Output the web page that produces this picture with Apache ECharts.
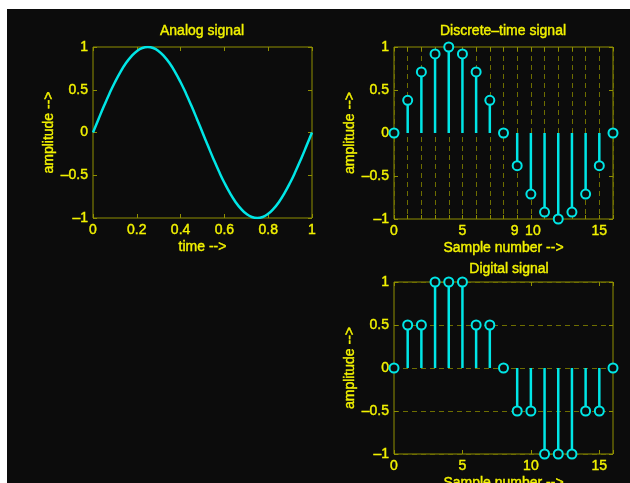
<!DOCTYPE html>
<html>
<head>
<meta charset="utf-8">
<script src="https://cdn.jsdelivr.net/npm/echarts@6/dist/echarts.min.js"></script>
<style>
  html, body { margin: 0; padding: 0; background: #ffffff; }
  #chart { position: absolute; left: 7px; top: 9px; width: 623px; height: 474px; background: #0c0c0c; }
</style>
</head>
<body>
<div id="chart"></div>
<script>
// analog signal, read at t = 0, 0.025, ... 1
const analogTime = [0, 0.025, 0.05, 0.075, 0.1, 0.125, 0.15, 0.175, 0.2, 0.225, 0.25,
  0.275, 0.3, 0.325, 0.35, 0.375, 0.4, 0.425, 0.45, 0.475, 0.5,
  0.525, 0.55, 0.575, 0.6, 0.625, 0.65, 0.675, 0.7, 0.725, 0.75,
  0.775, 0.8, 0.825, 0.85, 0.875, 0.9, 0.925, 0.95, 0.975, 1];
const analogAmp = [0, 0.156, 0.309, 0.454, 0.588, 0.707, 0.809, 0.891, 0.951, 0.988, 1,
  0.988, 0.951, 0.891, 0.809, 0.707, 0.588, 0.454, 0.309, 0.156, 0,
  -0.156, -0.309, -0.454, -0.588, -0.707, -0.809, -0.891, -0.951, -0.988, -1,
  -0.988, -0.951, -0.891, -0.809, -0.707, -0.588, -0.454, -0.309, -0.156, 0];

const sampleNumber = [0, 1, 2, 3, 4, 5, 6, 7, 8, 9, 10, 11, 12, 13, 14, 15, 16];
const discreteAmp = [0, 0.38, 0.71, 0.92, 1, 0.92, 0.71, 0.38, 0, -0.38, -0.71, -0.92, -1, -0.92, -0.71, -0.38, 0];
const digitalAmp = [0, 0.5, 0.5, 1, 1, 1, 0.5, 0.5, 0, -0.5, -0.5, -1, -1, -1, -0.5, -0.5, 0];

const discreteTickLabels = [0, 5, 9, 10, 15];
const digitalTickLabels = [0, 5, 10, 15];

const TEXT = '#f2f200';
const FRAME = '#8f8f00';
const GRIDLINE = '#6e6e00';
const CYAN = '#00e6e6';
const BG = '#0c0c0c';
const FONT = 'Liberation Sans';

const fmtNum = v => (v < 0 ? '\u2013' + String(-v) : String(v));

const chart = echarts.init(document.getElementById('chart'));

const grids = [
  { left: 86, top: 38, width: 219, height: 171 },
  { left: 387, top: 38, width: 219, height: 172 },
  { left: 387, top: 273, width: 219, height: 172 }
];

// slight outline in the text colour to get the heavier look of the original
const txt = { color: TEXT, fontFamily: FONT, fontSize: 14, textBorderColor: TEXT, textBorderWidth: 0.4 };
const tick = { show: true, inside: true, length: 4, lineStyle: { color: FRAME } };
const label = Object.assign({}, txt, { margin: 5 });
const noLine = { show: false, onZero: false };

function xAxisPair(grid, min, max, interval, name, showLabel, split, rich) {
  return [
    {
      type: 'value', gridIndex: grid, min: min, max: max, interval: interval,
      name: name, nameLocation: 'middle', nameGap: 22, nameTextStyle: txt,
      axisLine: noLine, axisTick: tick,
      axisLabel: Object.assign({}, label, { formatter: showLabel, rich: rich || {} }),
      splitLine: split
    },
    {
      type: 'value', gridIndex: grid, position: 'top', min: min, max: max, interval: interval,
      axisLine: noLine, axisTick: tick, axisLabel: { show: false }, splitLine: { show: false }
    }
  ];
}

function yAxisPair(grid, split) {
  return [
    {
      type: 'value', gridIndex: grid, min: -1, max: 1, interval: 0.5,
      name: 'amplitude -->', nameLocation: 'middle', nameGap: 31, nameTextStyle: txt,
      axisLine: noLine, axisTick: tick,
      axisLabel: Object.assign({}, label, { formatter: fmtNum }),
      splitLine: split
    },
    {
      type: 'value', gridIndex: grid, position: 'right', min: -1, max: 1, interval: 0.5,
      axisLine: noLine, axisTick: tick, axisLabel: { show: false }, splitLine: { show: false }
    }
  ];
}

const dashed = { show: true, lineStyle: { color: GRIDLINE, type: [5, 4], width: 1 } };
const noSplit = { show: false };

// 9 and 10 sit close together; nudge them apart a little like the original
const nineTen = {
  l: Object.assign({}, txt, { padding: [0, 5, 0, 0] }),
  r: Object.assign({}, txt, { padding: [0, 0, 0, 4] })
};
const discreteLabel = v => {
  if (discreteTickLabels.indexOf(v) < 0) return '';
  if (v === 9) return '{l|9}';
  if (v === 10) return '{r|10}';
  return String(v);
};

const xAxes = [].concat(
  xAxisPair(0, 0, 1, 0.2, 'time -->', v => String(v), noSplit),
  xAxisPair(1, 0, 16, 1, 'Sample number -->', discreteLabel, dashed, nineTen),
  xAxisPair(2, 0, 16, 5, 'Sample number -->',
    v => (digitalTickLabels.indexOf(v) >= 0 ? String(v) : ''), noSplit)
);
const yAxes = [].concat(yAxisPair(0, noSplit), yAxisPair(1, noSplit), yAxisPair(2, dashed));

function stemSeries(xIdx, yIdx, values) {
  const pts = sampleNumber.map((n, i) => [n, values[i]]);
  return [
    {
      type: 'bar', xAxisIndex: xIdx, yAxisIndex: yIdx, barWidth: 2.5,
      data: pts, itemStyle: { color: CYAN }, silent: true
    },
    {
      type: 'scatter', xAxisIndex: xIdx, yAxisIndex: yIdx, clip: false,
      symbol: 'circle', symbolSize: 9, data: pts,
      itemStyle: { color: BG, borderColor: CYAN, borderWidth: 2, opacity: 1 }, z: 3
    }
  ];
}

const titleStyle = Object.assign({}, txt, { fontWeight: 'normal' });

const option = {
  animation: false,
  backgroundColor: BG,
  title: [
    { text: 'Analog signal', left: 195, top: 15, textAlign: 'center', padding: 0, textStyle: titleStyle },
    { text: 'Discrete\u2013time signal', left: 496, top: 15, textAlign: 'center', padding: 0, textStyle: titleStyle },
    { text: 'Digital signal', left: 502, top: 253, textAlign: 'center', padding: 0, textStyle: titleStyle }
  ],
  grid: grids.map(g => Object.assign({
    show: true, borderColor: FRAME, borderWidth: 1, backgroundColor: 'transparent',
    containLabel: false, outerBoundsMode: 'none'
  }, g)),
  xAxis: xAxes,
  yAxis: yAxes,
  series: [
    {
      type: 'line', xAxisIndex: 0, yAxisIndex: 0, showSymbol: false, smooth: true,
      data: analogTime.map((t, i) => [t, analogAmp[i]]),
      lineStyle: { color: CYAN, width: 2.5 }
    }
  ].concat(stemSeries(2, 2, discreteAmp), stemSeries(4, 4, digitalAmp))
};

chart.setOption(option);
window.addEventListener('resize', () => chart.resize());
</script>
</body>
</html>
